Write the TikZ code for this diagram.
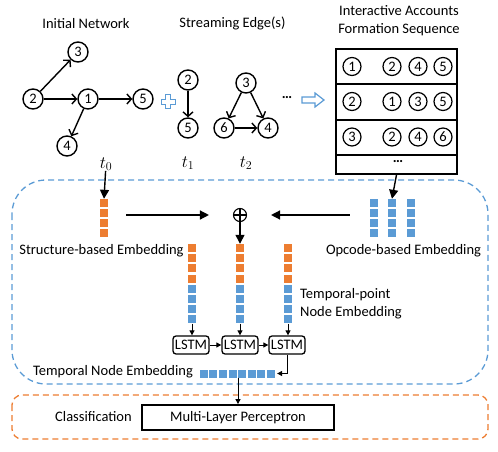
\documentclass[tikz,border=0pt]{standalone}
\usepackage{fontspec}
\setmainfont{Carlito}
\usetikzlibrary{arrows.meta,shapes.geometric}
\definecolor{orng}{HTML}{ED7D31}
\definecolor{blu}{HTML}{5B9BD5}
\begin{document}
\begin{tikzpicture}[x=1pt,y=-1pt,
  font=\fontsize{14.5}{18}\selectfont,
  num/.style={circle,draw,line width=1.4pt,inner sep=0pt,minimum size=20pt},
  tnum/.style={circle,draw,line width=1.2pt,inner sep=0pt,minimum size=18pt},
  garr/.style={line width=1.4pt,-{Straight Barb[length=4.5pt,width=10pt]}},
  farr/.style={line width=1.4pt,-{Triangle[length=9pt,width=9pt]}},
  sarr/.style={line width=1pt,-{Triangle[length=5pt,width=5pt]}},
  osq/.style={fill=orng,inner sep=0pt,minimum size=8pt},
  bsq/.style={fill=blu,inner sep=0pt,minimum size=8pt},
  lstm/.style={draw,line width=1.3pt,rounded corners=3pt,minimum width=36pt,minimum height=18pt,inner sep=1pt},
  lbl/.style={inner sep=0pt},
  tlbl/.style={inner sep=0pt,font=\fontsize{17}{20}\selectfont},
  oplusst/.style={circle,draw,line width=1.1pt,minimum size=13pt,inner sep=0pt,
    path picture={\draw[line width=1.1pt] (path picture bounding box.north) -- (path picture bounding box.south)
      (path picture bounding box.west) -- (path picture bounding box.east);}}
]
\useasboundingbox (0,0) rectangle (498,452);

% titles
\node[lbl] (tInit) at (86,24) {Initial Network};
\node[lbl] (tStream) at (232.5,23) {Streaming Edge(s)};
\node[lbl,align=center] (tSeq) at (399,20.5) {Interactive Accounts\\Formation Sequence};

% initial network
\node[num] (a3) at (78,52) {3};
\node[num] (a2) at (33,99) {2};
\node[num] (a1) at (88,99) {1};
\node[num] (a5) at (143,99) {5};
\node[num] (a4) at (67,146) {4};
\draw[garr] (a2) -- (a3);
\draw[garr] (a2) -- (a1);
\draw[garr] (a1) -- (a5);
\draw[garr] (a1) -- (a4);

% plus sign
\draw[blu,line width=1pt,fill=white] (165.5,94.5) -- (170.5,94.5) -- (170.5,99) -- (175,99) -- (175,104) -- (170.5,104) -- (170.5,108.5) -- (165.5,108.5) -- (165.5,104) -- (161,104) -- (161,99) -- (165.5,99) -- cycle;

% streaming edges
\node[num] (b2) at (188,80) {2};
\node[num] (b5) at (188,128) {5};
\draw[garr] (b2) -- (b5);
\node[num] (c3) at (246,83) {3};
\node[num] (c6) at (224,128) {6};
\node[num] (c4) at (268,128) {4};
\draw[garr] (c3) -- (c6);
\draw[garr] (c3) -- (c4);
\draw[garr] (c6) -- (c4);

\node[lbl,font=\fontsize{14.5}{18}\selectfont\bfseries] (dots1) at (287,98) {…};

% hollow arrow
\draw[blu,line width=1.2pt,fill=white] (302,97) -- (315,97) -- (315,93) -- (324,100) -- (315,107) -- (315,103) -- (302,103) -- cycle;

% table
\node[draw,line width=1.6pt,minimum width=121pt,minimum height=125pt,inner sep=0pt] (tbl) at (396.5,111.5) {};
\draw[line width=1.6pt] (tbl.west |- 0,84) -- (tbl.east |- 0,84);
\draw[line width=1.6pt] (tbl.west |- 0,120) -- (tbl.east |- 0,120);
\draw[line width=1.6pt] (tbl.west |- 0,155) -- (tbl.east |- 0,155);
\node[tnum] (r11) at (352,66.5) {1};
\node[tnum] (r12) at (392,66.5) {2};
\node[tnum] (r13) at (418,66.5) {4};
\node[tnum] (r14) at (443,66.5) {5};
\node[tnum] (r21) at (352,101.5) {2};
\node[tnum] (r22) at (392,101.5) {1};
\node[tnum] (r23) at (418,101.5) {3};
\node[tnum] (r24) at (443,101.5) {5};
\node[tnum] (r31) at (352,137) {3};
\node[tnum] (r32) at (392,137) {2};
\node[tnum] (r33) at (418,137) {4};
\node[tnum] (r34) at (443,137) {6};
\node[lbl,font=\fontsize{14.5}{18}\selectfont\bfseries] (dots2) at (398,162) {…};

% time labels
\node[tlbl] (t0) at (106,164) {$t_0$};
\node[tlbl] (t1) at (188,163) {$t_1$};
\node[tlbl] (t2) at (246,163) {$t_2$};

% dashed containers
\draw[blu,line width=1.3pt,dash pattern=on 6pt off 4pt,rounded corners=34pt] (12,180) rectangle (488,384);
\draw[orng,line width=1.3pt,dash pattern=on 6pt off 4pt,rounded corners=10pt] (12,395) rectangle (488,439);

% structure-based embedding
\foreach \i in {1,...,4} { \node[osq] (se\i) at (104,{193+10*\i}) {}; }
\node[lbl] (slab) at (101.5,251) {Structure-based Embedding};
\draw[farr] (t0) -- (se1.north);

% opcode-based embedding
\foreach \c/\x in {1/374,2/392,3/410.5} {
  \foreach \i in {1,...,4} { \node[bsq] (op\c\i) at (\x,{193+10*\i}) {}; }
}
\node[lbl] (olab) at (403.5,251) {Opcode-based Embedding};
\draw[farr] (tbl.south) -- (op21.north);

% oplus
\node[oplusst] (oplus) at (240,215) {};
\draw[farr] ([xshift=18pt]se1.east |- oplus) -- ([xshift=-24pt]oplus.west);
\draw[farr] ([xshift=-20pt]op11.west |- oplus) -- ([xshift=24pt]oplus.east);

% temporal-point columns
\foreach \c/\x in {1/192,2/240,3/288} {
  \foreach \i in {1,...,4} { \node[osq] (tp\c\i) at (\x,{237.8+10.2*\i}) {}; }
  \foreach \i in {5,...,8} { \node[bsq] (tp\c\i) at (\x,{237.8+10.2*\i}) {}; }
}
\draw[farr] (oplus) -- (tp21.north);
\node[lbl,align=left,anchor=west] (tplab) at (300,304) {Temporal-point\\Node Embedding};

% LSTMs
\node[lstm] (L1) at (191,345) {LSTM};
\node[lstm] (L2) at (240,345) {LSTM};
\node[lstm] (L3) at (287,345) {LSTM};
\draw[sarr] (tp18.south) -- (L1.north -| tp18.south);
\draw[sarr] (tp28.south) -- (L2.north -| tp28.south);
\draw[sarr] (tp38.south) -- (L3.north -| tp38.south);
\draw[sarr] (L1) -- (L2);
\draw[sarr] (L2) -- (L3);

% temporal node embedding
\foreach \i in {1,...,8} { \node[bsq] (te\i) at ({194.15+9.6*\i},373.5) {}; }
\node[lbl] (telab) at (113,372) {Temporal Node Embedding};
\draw[sarr] (L3.south) |- ([xshift=2pt]te8.east);

% classification
\node[draw,line width=1.8pt,minimum width=192pt,minimum height=25pt,inner sep=0pt] (mlp) at (238,417.5) {Multi-Layer Perceptron};
\node[lbl] (clab) at (93.5,417) {Classification};
\draw[sarr] (mlp.north |- te4.south) -- (mlp.north);
\end{tikzpicture}
\end{document}
